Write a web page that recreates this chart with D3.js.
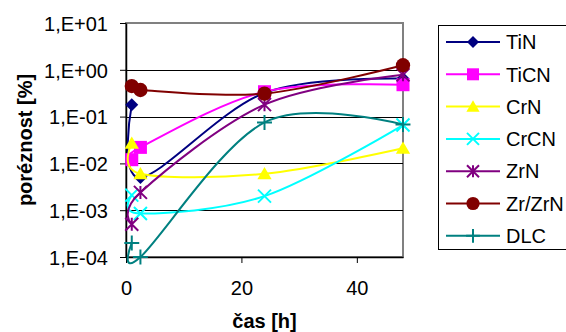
<!DOCTYPE html>
<html>
<head>
<meta charset="utf-8">
<script src="https://cdn.jsdelivr.net/npm/d3@7"></script>
<style>
  body { margin: 0; background: #fff; }
  svg text { font-family: "Liberation Sans", Arial, sans-serif; }
</style>
</head>
<body>
<div id="chart"></div>
<script>
    // data
    var hours = [1, 2.5, 24, 48];
    var seriesNames = ["TiN", "TiCN", "CrN", "CrCN", "ZrN", "Zr/ZrN", "DLC"];
    var TiN   = [0.18, 0.005, 0.32, 0.65];
    var TiCN  = [0.012, 0.022, 0.34, 0.48];
    var CrN   = [0.027, 0.006, 0.006, 0.021];
    var CrCN  = [0.0021, 0.00085, 0.002, 0.066];
    var ZrN   = [0.0005, 0.0024, 0.18, 0.78];
    var ZrZrN = [0.45, 0.37, 0.31, 1.25];
    var DLC   = [0.0002, 0.0001, 0.075, 0.068];
    var seriesValues = [TiN, TiCN, CrN, CrCN, ZrN, ZrZrN, DLC];
    var xTicks = [0, 20, 40];
    var yTicks = [1e-4, 1e-3, 1e-2, 1e-1, 1e0, 1e1];

    var colors = ["#000080", "#ff00ff", "#ffff00", "#00ffff", "#800080", "#800000", "#008080"];
    var markers = ["diamond", "square", "triangle", "x", "star", "circle", "plus"];

    var svg = d3.select("#chart").append("svg").attr("width", 566).attr("height", 332);

    var pLeft = 126, pRight = 403, pTop = 23, pBottom = 257;
    var x = d3.scaleLinear().domain([0, 48]).range([pLeft, pRight]);
    var y = d3.scaleLog().domain([1e-4, 10]).range([pBottom, pTop]);

    // plot border
    svg.append("rect").attr("x", pLeft).attr("y", pTop).attr("width", pRight - pLeft).attr("height", pBottom - pTop)
      .style("fill", "none").style("stroke", "#808080").style("stroke-width", 2);

    // gridlines
    svg.selectAll("line.grid").data(yTicks.slice(1, -1)).enter().append("line")
      .attr("class", "grid")
      .attr("x1", pLeft).attr("x2", pRight)
      .attr("y1", function(d) { return Math.round(y(d)) + 0.5; })
      .attr("y2", function(d) { return Math.round(y(d)) + 0.5; })
      .style("stroke", "#000").style("stroke-width", 1);

    function fmt(d) {
      var e = Math.round(Math.log10(d));
      return "1,E" + (e < 0 ? "-" : "+") + (Math.abs(e) < 10 ? "0" : "") + Math.abs(e);
    }

    var yAxis = svg.append("g").attr("transform", "translate(" + pLeft + ",0)")
      .call(d3.axisLeft(y).tickValues(yTicks).tickFormat(fmt).tickSize(6).tickSizeOuter(0).tickPadding(12));
    var xAxis = svg.append("g").attr("transform", "translate(0," + pBottom + ")")
      .call(d3.axisBottom(x).tickValues(xTicks).tickFormat(d3.format("d")).tickSize(6).tickSizeOuter(0));

    [yAxis, xAxis].forEach(function(ax) {
      ax.select(".domain").style("stroke", "#000").style("stroke-width", 1.5);
      ax.selectAll(".tick line").style("stroke", "#000").style("stroke-width", 1);
      ax.selectAll(".tick text").style("font-size", "20px").style("fill", "#000");
    });
    xAxis.selectAll(".tick text").attr("y", 38).attr("dy", 0);
    yAxis.selectAll(".tick text").attr("dy", "0.36em");

    // axis titles
    svg.append("text")
      .attr("transform", "translate(32," + ((pTop + pBottom) / 2) + ") rotate(-90)")
      .style("text-anchor", "middle").style("font-size", "20px").style("font-weight", "bold")
      .text("poréznost [%]");
    svg.append("text")
      .attr("x", (pLeft + pRight) / 2).attr("y", 328)
      .style("text-anchor", "middle").style("font-size", "20px").style("font-weight", "bold")
      .text("čas [h]");

    // marker shapes
    function drawMarker(g, type, color, s) {
      if (type === "diamond") {
        g.append("path").attr("d", "M0," + (-s) + "L" + s + ",0L0," + s + "L" + (-s) + ",0Z").style("fill", color);
      } else if (type === "square") {
        g.append("rect").attr("x", -s).attr("y", -s).attr("width", 2 * s).attr("height", 2 * s).style("fill", color);
      } else if (type === "triangle") {
        g.append("path").attr("d", "M0," + (-s * 1.05) + "L" + (s * 1.1) + "," + (s * 0.85) + "L" + (-s * 1.1) + "," + (s * 0.85) + "Z").style("fill", color);
      } else if (type === "circle") {
        g.append("circle").attr("r", s * 1.1).style("fill", color);
      } else if (type === "x") {
        g.append("path").attr("d", "M" + (-s) + "," + (-s) + "L" + s + "," + s + "M" + s + "," + (-s) + "L" + (-s) + "," + s)
          .style("stroke", color).style("stroke-width", 2).style("fill", "none");
      } else if (type === "star") {
        g.append("path").attr("d", "M" + (-s) + "," + (-s) + "L" + s + "," + s + "M" + s + "," + (-s) + "L" + (-s) + "," + s + "M0," + (-s) + "L0," + s)
          .style("stroke", color).style("stroke-width", 2).style("fill", "none");
      } else if (type === "plus") {
        var p = s * 1.15;
        g.append("path").attr("d", "M" + (-p) + ",0L" + p + ",0M0," + (-p) + "L0," + p)
          .style("stroke", color).style("stroke-width", 2).style("fill", "none");
      }
    }

    var line = d3.line()
      .x(function(d) { return x(d[0]); })
      .y(function(d) { return y(d[1]); })
      .curve(d3.curveCardinal.tension(0));

    seriesValues.forEach(function(vals, k) {
      var pts = hours.map(function(h, i) { return [h, vals[i]]; });
      var g = svg.append("g");
      g.append("path").datum(pts).attr("d", line)
        .style("fill", "none").style("stroke", colors[k]).style("stroke-width", 2);
      pts.forEach(function(p) {
        var m = g.append("g").attr("transform", "translate(" + x(p[0]) + "," + y(p[1]) + ")");
        drawMarker(m, markers[k], colors[k], 6.5);
      });
    });

    // legend
    var legend = svg.append("g");
    legend.append("rect").attr("x", 438.5).attr("y", 25.5).attr("width", 140).attr("height", 224)
      .style("fill", "#fff").style("stroke", "#000").style("stroke-width", 1);
    seriesNames.forEach(function(name, k) {
      var ly = 42 + k * 32.3;
      legend.append("line").attr("x1", 446).attr("x2", 500).attr("y1", ly).attr("y2", ly)
        .style("stroke", colors[k]).style("stroke-width", 2);
      var m = legend.append("g").attr("transform", "translate(473," + ly + ")");
      drawMarker(m, markers[k], colors[k], 6);
      legend.append("text").attr("x", 506).attr("y", ly).attr("dy", "0.36em")
        .style("font-size", "20px").text(name);
    });
</script>
</body>
</html>
